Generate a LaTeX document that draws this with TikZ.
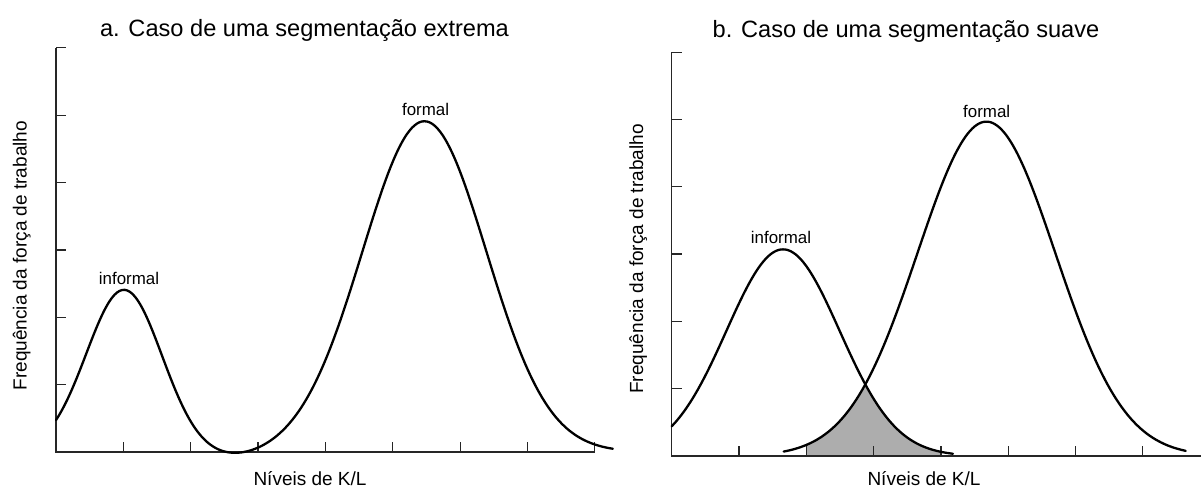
\documentclass[tikz,border=0pt]{standalone}
\usepackage{fontspec}
\setmainfont{Liberation Sans}
\begin{document}
\begin{tikzpicture}[x=1pt,y=1pt,
  curve/.style={line width=2.3pt, black, line join=round, line cap=round},
  axisline/.style={line width=1.3pt, black!85},
  tickline/.style={line width=1.2pt, black!85},
  shade/.style={fill=black!32},
  titletext/.style={font=\fontsize{23.6}{28}\selectfont, anchor=base, inner sep=0pt},
  axlabel/.style={font=\fontsize{19}{23}\selectfont, anchor=base, inner sep=0pt},
  peaklabel/.style={font=\fontsize{16.9}{20}\selectfont, anchor=base, inner sep=0pt},
  declare function={
    ga(\t)=2.41*exp(-((\t-1.01)*(\t-1.01))/(2*0.56*0.56)) + 4.91*exp(-((\t-5.47)*(\t-5.47))/(2*0.92*0.92)) - 0.09*exp(-((\t-2.6)*(\t-2.6))/(2*0.6*0.6));
    gbi(\t)=3.07*exp(-((\t-1.654)*(\t-1.654))/(2*0.84*0.84));
    gbf(\t)=4.967*exp(-((\t-4.676)*(\t-4.676))/(2*1.025*1.025));
  }]
\useasboundingbox (0,0) rectangle (1201,489);

% ---------- panel a ----------
\begin{scope}[shift={(56pt,37pt)}, x=67.35pt, y=67.35pt]
  \draw[axisline] (0,6) -- (0,0) -- (8,0);
  \foreach \k in {1,...,6} \draw[tickline] (0,\k) -- (0.15,\k);
  \foreach \k in {1,...,8} \draw[tickline] (\k,0) -- (\k,0.15);
  \draw[curve] plot[domain=0:8.27, samples=220, smooth] (\x,{ga(\x)});
\end{scope}

% ---------- panel b ----------
\begin{scope}[shift={(671.7pt,33pt)}, x=67.3pt, y=67.3pt]
  \begin{scope}
    \clip (2,0) rectangle (4,6);
    \clip plot[domain=0:4.18, samples=120, smooth] (\x,{gbi(\x)}) -- (4.18,0) -- (0,0) -- cycle;
    \fill[shade] plot[domain=1.664:7.64, samples=160, smooth] (\x,{gbf(\x)}) -- (7.64,0) -- (1.664,0) -- cycle;
  \end{scope}
  \draw[axisline] (0,6) -- (0,0) -- (7.87,0);
  \foreach \k in {1,...,6} \draw[tickline] (0,\k) -- (0.15,\k);
  \foreach \k in {1,...,7} \draw[tickline] (\k,0) -- (\k,0.15);
  \draw[curve] plot[domain=0:4.18, samples=140, smooth] (\x,{gbi(\x)});
  \draw[curve] plot[domain=1.664:7.64, samples=180, smooth] (\x,{gbf(\x)});
\end{scope}

% ---------- texts ----------
\node[titletext] (ta) at (304.5,452.3) {a. Caso de uma segmentação extrema};
\node[titletext] (tb) at (906,451.7) {b. Caso de uma segmentação suave};
\node[axlabel, rotate=90] (ya) at (26.7,233.3) {Frequência da força de trabalho};
\node[axlabel, rotate=90] (yb) at (643,230) {Frequência da força de trabalho};
\node[axlabel] (xa) at (310,3) {Níveis de K/L};
\node[axlabel] (xb) at (924,3) {Níveis de K/L};
\node[peaklabel] (ia) at (129,204) {informal};
\node[peaklabel] (fa) at (425.6,373) {formal};
\node[peaklabel] (ib) at (781,245) {informal};
\node[peaklabel] (fb) at (986.7,371.7) {formal};
\end{tikzpicture}
\end{document}
